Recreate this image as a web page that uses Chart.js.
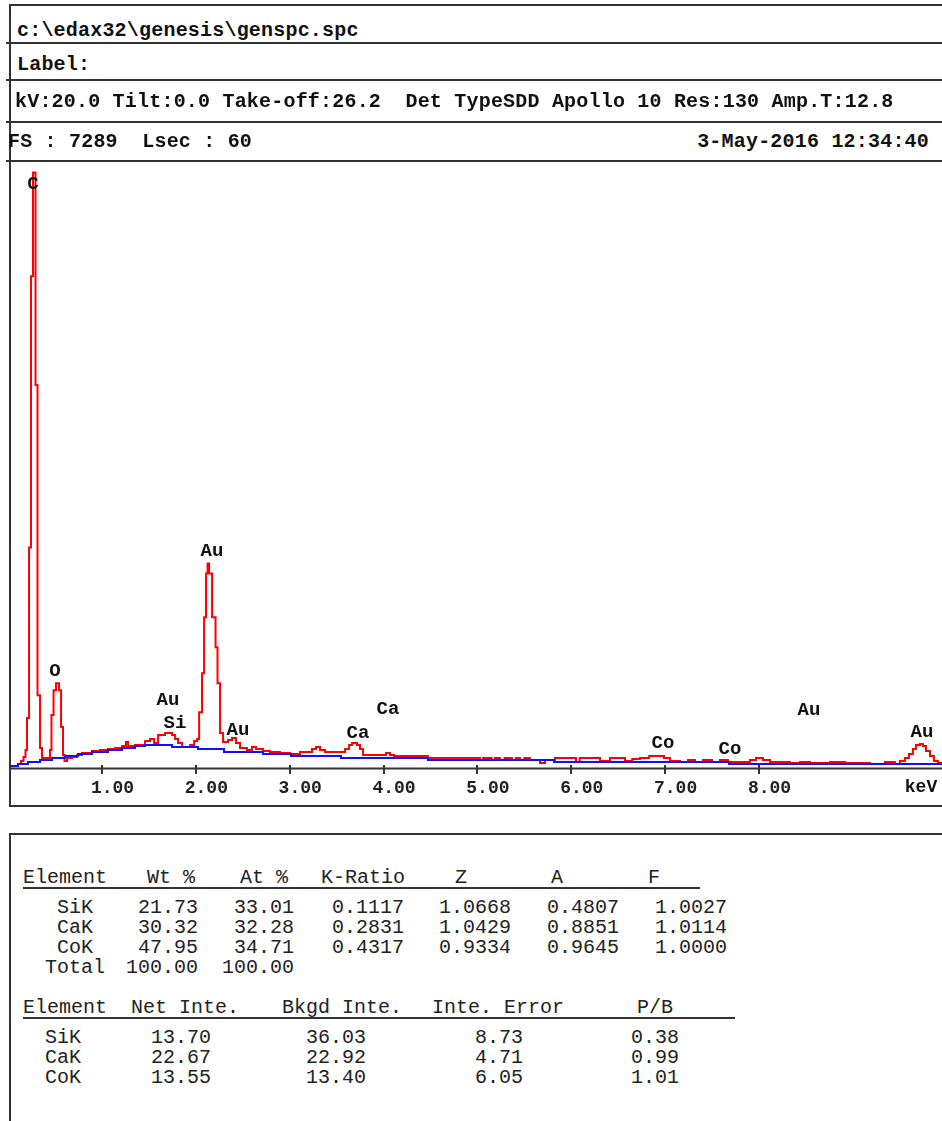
<!DOCTYPE html>
<html>
<head>
<meta charset="utf-8">
<title>genspc.spc</title>
<script src="https://cdn.jsdelivr.net/npm/chart.js@4.4.1/dist/chart.umd.min.js"></script>
<style>
  html, body { margin: 0; padding: 0; background: #fff; }
  body { width: 942px; height: 1121px; position: relative; overflow: hidden;
         font-family: "Liberation Mono", "DejaVu Sans Mono", monospace; color: #111; }
  .hl { position: absolute; height: 2px; background: #333; z-index: 2; }
  .vl { position: absolute; width: 2px; background: #333; z-index: 2; }
  .t { position: absolute; white-space: pre; line-height: 20px; height: 20px; z-index: 3; }
  .hdr { font-weight: bold; font-size: 20px; letter-spacing: 0.2px; color: #111; }
  .tbl { font-size: 20px; color: #222; }
  #plot { position: absolute; left: 0; top: 161px; z-index: 1; }
</style>
</head>
<body>
<canvas id="plot" width="942" height="645"></canvas>
<script>
// ---- spectrum: measured counts (red), step levels starting at each energy
const spectrumKeV = [0.02, 0.105, 0.137, 0.164, 0.185, 0.201, 0.223, 0.244, 0.265, 0.292,
  0.313, 0.340, 0.361, 0.446, 0.462, 0.484, 0.510, 0.542, 0.564, 0.585,
  0.601, 0.628, 0.681, 0.735, 0.787, 0.894, 0.979, 1.064, 1.139, 1.214,
  1.256, 1.278, 1.352, 1.459, 1.512, 1.555, 1.598, 1.672, 1.747, 1.779,
  1.811, 1.854, 1.939, 1.982, 2.014, 2.035, 2.066, 2.088, 2.109, 2.125,
  2.141, 2.173, 2.210, 2.231, 2.258, 2.290, 2.343, 2.386, 2.428, 2.471,
  2.545, 2.598, 2.641, 2.716, 2.790, 2.897, 3.004, 3.110, 3.238, 3.280,
  3.323, 3.377, 3.590, 3.633, 3.665, 3.717, 3.749, 3.781, 4.026, 4.068,
  4.111,
  4.473, 5.027, 5.060, 5.150, 5.187, 5.240, 5.290, 5.369, 5.410, 5.454,
  5.500, 5.560, 5.667, 5.720, 5.826, 6.050, 6.090, 6.306, 6.413, 6.573,
  6.650, 6.732, 6.830, 6.988, 7.052, 7.158, 7.244, 7.318, 7.403, 7.499,
  7.584, 7.670, 7.904, 7.968, 8.043, 8.118, 8.331, 8.438, 8.544, 8.757,
  8.917, 9.183, 9.342, 9.448, 9.501, 9.555, 9.598, 9.640, 9.672, 9.715,
  9.747, 9.779, 9.822, 9.864, 9.907, 9.95];
const spectrumCounts = [12, 36, 72, 120, 204, 588, 2640, 5904, 7152, 4596,
  864, 228, 108, 204, 624, 924, 1008, 924, 480, 144,
  72, 108, 120, 144, 168, 192, 204, 216, 228, 252,
  300, 252, 264, 312, 336, 288, 384, 408, 384, 336,
  288, 240, 264, 312, 336, 660, 1128, 1800, 2328, 2448,
  2328, 1800, 1440, 1008, 408, 300, 324, 348, 288, 228,
  204, 240, 216, 192, 180, 168, 156, 180, 216, 240,
  204, 180, 216, 264, 288, 264, 216, 144, 168, 144,
  132,
  108, 84, 108, 84, 108, 84, 108, 84, 108, 84,
  108, 84, 48, 84, 108, 60, 108, 72, 108, 72,
  96, 108, 132, 108, 72, 60, 84, 60, 84, 60,
  84, 60, 84, 108, 84, 60, 48, 60, 48, 60,
  48, 36, 60, 36, 72, 108, 156, 216, 264, 276,
  252, 192, 132, 72, 48, 48];

// ---- fitted background (blue)
const backgroundKeV = [0.02, 0.105, 0.211, 0.340, 0.468, 0.606, 0.745, 0.894, 1.064, 1.214,
  1.352, 1.459, 1.747, 2.023, 2.300, 2.716, 3.014, 3.547, 4.473, 5.816, 7.681, 9.95];
const backgroundCounts = [12, 36, 60, 84, 108, 132, 156, 180, 204, 228,
  252, 264, 240, 216, 180, 156, 132, 108, 84, 60, 36, 36];

// ---- energy axis
const tickValues = [1, 2, 3, 4, 5, 6, 7, 8];
const fullScaleCounts = 7289;

// ---- peak identification labels
const peakNames  = ['C', 'O', 'Au', 'Si', 'Au', 'Au', 'Ca', 'Ca', 'Co', 'Co', 'Au', 'Au'];
const peakKeV    = [0.265, 0.500, 1.703, 1.778, 2.172, 2.449, 3.728, 4.047, 6.977, 7.691, 8.533, 9.736];
const peakCounts = [7008, 1152, 804, 528, 2592, 444, 408, 696, 288, 216, 684, 420];

// ---- acquisition header
const headerPath = 'c:\\edax32\\genesis\\genspc.spc';
const headerLabel = 'Label:';
const headerAcq = 'kV:20.0 Tilt:0.0 Take-off:26.2  Det TypeSDD Apollo 10 Res:130 Amp.T:12.8';
const headerCounts = 'FS : 7289  Lsec : 60';
const headerDate = '3-May-2016 12:34:40';

// ---- quantification tables
const quantHeaders = ['Element', 'Wt %', 'At %', 'K-Ratio', 'Z', 'A', 'F'];
const quantElements = ['SiK', 'CaK', 'CoK', 'Total'];
const quantValues = [
  ['21.73', '33.01', '0.1117', '1.0668', '0.4807', '1.0027'],
  ['30.32', '32.28', '0.2831', '1.0429', '0.8851', '1.0114'],
  ['47.95', '34.71', '0.4317', '0.9334', '0.9645', '1.0000'],
  ['100.00', '100.00']
];
const intensityHeaders = ['Element', 'Net Inte.', 'Bkgd Inte.', 'Inte. Error', 'P/B'];
const intensityElements = ['SiK', 'CaK', 'CoK'];
const intensityValues = [
  ['13.70', '36.03', '8.73', '0.38'],
  ['22.67', '22.92', '4.71', '0.99'],
  ['13.55', '13.40', '6.05', '1.01']
];

// ---------------------------------------------------------------
// page furniture: frames, header rows and tables
function line(cls, left, top, len) {
  const d = document.createElement('div');
  d.className = cls;
  d.style.left = left + 'px';
  d.style.top = top + 'px';
  if (cls === 'hl') d.style.width = len + 'px'; else d.style.height = len + 'px';
  document.body.appendChild(d);
}
function text(str, cls, cx, cy, align) {
  const s = document.createElement('div');
  s.className = 't ' + cls;
  s.textContent = str;
  s.style.top = (cy - 10) + 'px';
  if (align === 'right') s.style.right = (942 - cx) + 'px';
  else s.style.left = cx + 'px';
  document.body.appendChild(s);
}

// spectrum frame
line('hl', 9, 4, 933);
line('vl', 9, 4, 803);
[42, 79, 121, 160].forEach(y => line('hl', 6, y, 936));
line('hl', 9, 805, 933);
// results frame
line('hl', 9, 833, 933);
line('vl', 9, 833, 288);

text(headerPath, 'hdr', 17, 31);
text(headerLabel, 'hdr', 17, 65);
text(headerAcq, 'hdr', 15, 102);
text(headerCounts, 'hdr', 8, 142);
text(headerDate, 'hdr', 929, 142, 'right');

// composition table
const quantHeadX = [23, 147, 240, 321, 455, 551, 648];
const quantRight = [198, 294, 404, 511, 619, 727];
quantHeaders.forEach((h, i) => text(h, 'tbl', quantHeadX[i], 878));
line('hl', 23, 887, 677);
quantElements.forEach((el, r) => {
  const y = 908 + r * 20;
  text(el, 'tbl', el === 'Total' ? 45 : 57, y);
  quantValues[r].forEach((v, c) => text(v, 'tbl', quantRight[c], y, 'right'));
});

// intensity table
const intHeadX = [23, 131, 282, 432, 637];
const intRight = [211, 366, 523, 679];
intensityHeaders.forEach((h, i) => text(h, 'tbl', intHeadX[i], 1008));
line('hl', 23, 1017, 712);
intensityElements.forEach((el, r) => {
  const y = 1038 + r * 20;
  text(el, 'tbl', 45, y);
  intensityValues[r].forEach((v, c) => text(v, 'tbl', intRight[c], y, 'right'));
});

// ---------------------------------------------------------------
// spectrum chart
const toPoints = (xs, ys) => xs.map((x, i) => ({ x: x, y: ys[i] }));
const monoBold = (size) => ({ family: '"Liberation Mono", monospace', size: size, weight: 'bold' });

const spectrumDecor = {
  id: 'spectrumDecor',
  afterDatasetsDraw(chart) {
    const { ctx, chartArea, scales: { x, y } } = chart;
    ctx.save();
    // energy axis line and tick marks
    ctx.strokeStyle = '#333';
    ctx.lineWidth = 2;
    ctx.beginPath();
    ctx.moveTo(chartArea.left, chartArea.bottom + 1.5);
    ctx.lineTo(chartArea.right, chartArea.bottom + 1.5);
    ctx.stroke();
    tickValues.forEach(v => {
      const px = Math.round(x.getPixelForValue(v));
      ctx.beginPath();
      ctx.moveTo(px, chartArea.bottom - 2);
      ctx.lineTo(px, chartArea.bottom + 7);
      ctx.stroke();
    });
    // peak labels
    ctx.fillStyle = '#111';
    ctx.textAlign = 'center';
    ctx.textBaseline = 'middle';
    ctx.font = 'bold 19px "Liberation Mono", monospace';
    peakNames.forEach((n, i) => {
      ctx.fillText(n, x.getPixelForValue(peakKeV[i]), y.getPixelForValue(peakCounts[i]));
    });
    // unit
    ctx.font = 'bold 18px "Liberation Mono", monospace';
    ctx.fillText('keV', chartArea.right - 21, chartArea.bottom + 20);
    ctx.restore();
  }
};

new Chart(document.getElementById('plot'), {
  type: 'line',
  data: {
    datasets: [
      {
        label: 'Background',
        data: toPoints(backgroundKeV, backgroundCounts),
        borderColor: '#1010ff',
        borderWidth: 2,
        stepped: 'before',
        pointRadius: 0,
        fill: false
      },
      {
        label: 'Spectrum',
        data: toPoints(spectrumKeV, spectrumCounts),
        borderColor: '#ff0000',
        borderWidth: 2,
        stepped: 'before',
        pointRadius: 0,
        fill: false
      }
    ]
  },
  options: {
    responsive: false,
    animation: false,
    devicePixelRatio: 1,
    layout: { padding: { left: 10, right: 0, top: 0, bottom: 0 } },
    plugins: { legend: { display: false }, tooltip: { enabled: false } },
    scales: {
      x: {
        type: 'linear',
        min: 0.02,
        max: 9.95,
        afterFit: (scale) => { scale.height = 39; },
        afterBuildTicks: (scale) => { scale.ticks = tickValues.map(v => ({ value: v })); },
        grid: { display: false, drawTicks: false },
        border: { display: false },
        ticks: {
          autoSkip: false,
          maxRotation: 0,
          padding: 11,
          labelOffset: 10.5,
          color: '#222',
          font: monoBold(18),
          callback: (v) => Number(v).toFixed(2)
        }
      },
      y: { display: false, min: 0, max: fullScaleCounts }
    }
  },
  plugins: [spectrumDecor]
});
</script>
</body>
</html>
